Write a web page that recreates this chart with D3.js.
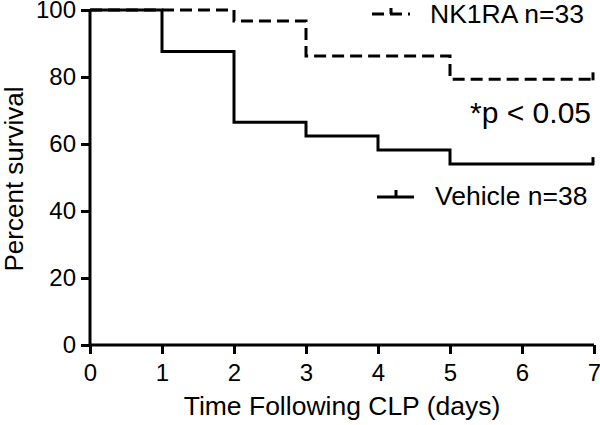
<!DOCTYPE html>
<html>
<head>
<meta charset="utf-8">
<script src="https://cdn.jsdelivr.net/npm/d3@7"></script>
<style>
  html, body { margin: 0; padding: 0; background: #fff; }
  svg { display: block; font-family: "Liberation Sans", Arial, sans-serif; }
</style>
</head>
<body>
<svg id="chart" width="600" height="425"></svg>
<script>
// ---- data ----
const days = [0, 1, 2, 3, 4, 5, 6, 7];
const vehicleDays = [0, 1, 2, 3, 4, 5, 7];
const vehicleSurvival = [100, 87.6, 66.5, 62.4, 58.2, 54.0, 54.0];
const nk1raDays = [0, 2, 3, 5, 7];
const nk1raSurvival = [100, 96.7, 86.3, 79.3, 79.3];
const yTicks = [0, 20, 40, 60, 80, 100];
const seriesNames = ["NK1RA n=33", "Vehicle n=38"];
const annotation = "*p < 0.05";
const xTitle = "Time Following CLP (days)";
const yTitle = "Percent survival";

// ---- layout ----
const svg = d3.select("#chart");
const x = d3.scaleLinear().domain([0, 7]).range([90, 594]);
const y = d3.scaleLinear().domain([0, 100]).range([345, 10]);

// axes
const xAxis = svg.append("g").attr("transform", "translate(0,345)")
  .call(d3.axisBottom(x).tickValues(days).tickSize(9).tickPadding(10).tickFormat(d3.format("d")));
const yAxis = svg.append("g").attr("transform", "translate(90,0)")
  .call(d3.axisLeft(y).tickValues(yTicks).tickSize(9).tickPadding(5).tickFormat(d3.format("d")));
[xAxis, yAxis].forEach(g => {
  g.select(".domain").attr("stroke", "#000").attr("stroke-width", 3);
  g.selectAll(".tick line").attr("stroke", "#000").attr("stroke-width", 3);
  g.selectAll(".tick text").attr("fill", "#000").style("font-size", "24px")
    .style("font-family", "'Liberation Sans', Arial, sans-serif");
});
xAxis.select(".domain").attr("d", `M${x(0)},0H${x(7)}`);
yAxis.select(".domain").attr("d", `M0,${y(0)}V${y(100)}`);
xAxis.selectAll(".tick text").attr("dy", "0.71em");

// step lines
const line = d3.line().x(d => x(d[0])).y(d => y(d[1])).curve(d3.curveStepAfter);
const vehiclePts = vehicleDays.map((d, i) => [d, vehicleSurvival[i]]);
const nkPts = nk1raDays.map((d, i) => [d, nk1raSurvival[i]]);

svg.append("path").datum(vehiclePts).attr("d", line)
  .attr("fill", "none").attr("stroke", "#000").attr("stroke-width", 3)
  .attr("stroke-linejoin", "miter");
svg.append("path").datum(nkPts).attr("d", line)
  .attr("fill", "none").attr("stroke", "#000").attr("stroke-width", 3)
  .attr("stroke-dasharray", "12,6");

// censor ticks at end
[[vehiclePts[vehiclePts.length - 1]], [nkPts[nkPts.length - 1]]].forEach(arr => {
  const p = arr[0];
  svg.append("line").attr("x1", x(p[0]) - 1).attr("x2", x(p[0]) - 1)
    .attr("y1", y(p[1]) + 1).attr("y2", y(p[1]) - 7)
    .attr("stroke", "#000").attr("stroke-width", 3);
});

// legend
// NK1RA
svg.append("line").attr("x1", 372).attr("x2", 410).attr("y1", 14).attr("y2", 14)
  .attr("stroke", "#000").attr("stroke-width", 3).attr("stroke-dasharray", "12,6");
svg.append("line").attr("x1", 391).attr("x2", 391).attr("y1", 14).attr("y2", 8)
  .attr("stroke", "#000").attr("stroke-width", 3);
svg.append("text").attr("x", 430).attr("y", 23).text(seriesNames[0])
  .style("font-size", "26.5px").attr("fill", "#000");
// Vehicle
svg.append("line").attr("x1", 377).attr("x2", 414).attr("y1", 197).attr("y2", 197)
  .attr("stroke", "#000").attr("stroke-width", 3);
svg.append("line").attr("x1", 396).attr("x2", 396).attr("y1", 197).attr("y2", 190)
  .attr("stroke", "#000").attr("stroke-width", 3);
svg.append("text").attr("x", 435).attr("y", 205).text(seriesNames[1])
  .style("font-size", "26.5px").attr("fill", "#000");

// annotation
svg.append("text").attr("x", 591).attr("y", 123).attr("text-anchor", "end")
  .text(annotation).style("font-size", "30px").attr("fill", "#000");

// axis titles
svg.append("text").attr("x", 342).attr("y", 415).attr("text-anchor", "middle")
  .text(xTitle).style("font-size", "26.5px").attr("fill", "#000");
svg.append("text").attr("transform", "translate(23,179) rotate(-90)")
  .attr("text-anchor", "middle").text(yTitle).style("font-size", "26px").attr("fill", "#000");
</script>
</body>
</html>
